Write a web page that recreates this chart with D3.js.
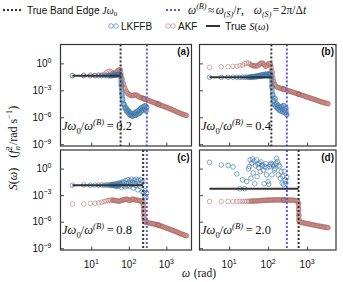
<!DOCTYPE html>
<html>
<head>
<meta charset="utf-8">
<script src="https://cdnjs.cloudflare.com/ajax/libs/d3/7.8.5/d3.min.js"></script>
<style>
  body { margin: 0; background: #fff; }
  svg { display: block; }
</style>
</head>
<body>
<script>
// ---- data ----
// frequency grid of the AKF points, rad
var omegaAKF = [3.14, 6.28, 9.42, 12.6, 15.7, 18.8, 22.0, 25.1, 28.3, 31.4,
  34.4, 37.8, 41.4, 45.4, 49.8, 54.6, 59.8, 65.6, 71.9, 78.9, 86.5, 94.8,
  104, 114, 125, 137, 150, 165, 181, 198, 217, 238,
  244, 249, 254,
  261, 286, 314, 344, 378, 414, 454, 498, 546, 598,
  606, 612, 618,
  656, 719, 789, 865, 948, 1040, 1140, 1250, 1371, 1503, 1648, 1807, 1982, 2173, 2382, 2612, 2864, 3141, 3443];
// frequency grid of the LKFFB points, rad
var omegaLK = [3.14, 6.28, 9.42, 12.6, 15.7, 18.8, 22.0, 25.1, 28.3, 31.4,
  32.9, 34.4, 36.1, 37.8, 39.5, 41.4, 43.4, 45.4, 47.5, 49.8,
  52.1, 54.6, 57.1, 59.8, 62.7, 65.6, 68.7, 71.9, 75.3, 78.9,
  82.6, 86.5, 90.6, 94.8, 99.3, 104, 109, 114, 119, 125,
  131, 137, 144, 150, 157, 165, 173, 181, 189, 198,
  207, 217, 228, 238, 249, 261, 274, 286, 300];

// log10 S(w) of AKF, panels a-d
var akfA = [-1.35, -1.33, -1.3, -1.32, -1.28, -1.3, -1.22, -1.05, -0.9, -0.85,
  -0.95, -1.1, -1.15, -1.0, -0.85, -0.72, -0.75, -1.7, -2.3, -2.8, -3.15, -3.35,
  -3.5, -3.58, -3.6, -3.55, -3.5, -3.55, -3.7, -3.78, -3.83, -3.9,
  -3.91, -3.92, -3.93,
  -3.96, -4.02, -4.08, -4.15, -4.21, -4.28, -4.34, -4.4, -4.47, -4.53,
  -4.54, -4.54, -4.55,
  -4.6, -4.66, -4.73, -4.79, -4.86, -4.92, -4.99, -5.06, -5.13, -5.2, -5.27, -5.35, -5.42, -5.5, -5.57, -5.64, -5.7, -5.75, -5.8];
var akfB = [-0.44, -0.37, -0.37, -0.33, -0.33, -0.26, -0.19, -0.05, 0.03, 0.02,
  -0.1, -0.2, -0.26, -0.28, -0.3, -0.25, -0.1, 0.02, 0.03, -0.15, -0.33, -0.2,
  0.0, -0.1, -0.9, -2.0, -2.4, -2.6, -2.7, -2.75, -2.8, -2.85,
  -2.86, -2.87, -2.88,
  -2.9, -2.95, -3.01, -3.07, -3.13, -3.19, -3.25, -3.3, -3.36, -3.42,
  -3.42, -3.43, -3.43,
  -3.48, -3.54, -3.59, -3.65, -3.71, -3.77, -3.83, -3.89, -3.95, -4.0, -4.06, -4.12, -4.18, -4.24, -4.3, -4.35, -4.4, -4.45, -4.5];
var akfC = [-4.0, -4.0, -3.93, -3.92, -3.88, -3.8, -3.72, -3.65, -3.6, -3.56,
  -3.55, -3.57, -3.6, -3.63, -3.66, -3.7, -3.65, -3.56, -3.55, -3.48, -3.45, -3.52,
  -3.62, -3.55, -3.45, -3.48, -3.55, -3.56, -3.6, -3.63, -3.7, -3.8,
  -4.2, -4.9, -5.6,
  -6.0, -6.07, -6.1, -6.15, -6.18, -6.22, -6.25, -6.28, -6.32, -6.37,
  -6.37, -6.38, -6.38,
  -6.43, -6.49, -6.55, -6.61, -6.67, -6.74, -6.8, -6.87, -6.93, -7.0, -7.06, -7.13, -7.2, -7.27, -7.34, -7.41, -7.48, -7.53, -7.58];
var akfD = [-3.72, -3.72, -3.71, -3.72, -3.7, -3.71, -3.7, -3.69, -3.7, -3.68,
  -3.69, -3.67, -3.68, -3.66, -3.65, -3.66, -3.63, -3.62, -3.6, -3.58, -3.6, -3.56,
  -3.55, -3.58, -3.54, -3.56, -3.53, -3.55, -3.52, -3.56, -3.53, -3.55,
  -3.55, -3.56, -3.54,
  -3.55, -3.56, -3.54, -3.57, -3.55, -3.58, -3.57, -3.6, -3.65, -3.9,
  -4.6, -5.3, -5.9,
  -6.05, -6.1, -6.13, -6.17, -6.2, -6.24, -6.28, -6.31, -6.35, -6.38, -6.42, -6.46, -6.49, -6.52, -6.56, -6.59, -6.62, -6.65, -6.68];

// log10 S(w) of LKFFB, panels a-d
var lkA = [-1.38, -1.37, -1.39, -1.38, -1.37, -1.38, -1.36, -1.37, -1.38, -1.36,
  -1.38, -1.37, -1.35, -1.36, -1.33, -1.3, -1.32, -1.28, -1.25, -1.3, -1.22, -1.25, -1.2, -1.3,
  -2.4, -3.4, -4.0, -4.5, -4.6, -5.0, -4.9, -5.3, -5.1, -5.5, -5.3, -5.7, -5.5, -5.8, -5.6,
  -5.9, -5.6, -5.8, -5.5, -5.8, -5.4, -5.7, -5.3, -5.6, -5.2, -5.5, -5.0, -5.3, -4.9, -5.2,
  -4.8, -5.1, -4.7, -5.3, -4.9];
var lkB = [-1.55, -1.56, -1.55, -1.54, -1.55, -1.56, -1.54, -1.55, -1.53, -1.55,
  -1.54, -1.52, -1.55, -1.5, -1.53, -1.48, -1.52, -1.45, -1.5, -1.42,
  -1.48, -1.4, -1.46, -1.35, -1.45, -1.3, -1.42, -1.28, -1.4, -1.25,
  -1.38, -1.2, -1.35, -1.22, -1.4, -1.15, -1.3, -1.2, -1.45,
  -2.6, -3.5, -4.2, -4.6, -3.9, -4.8, -4.5, -5.0, -4.7, -5.2,
  -4.9, -5.3, -4.8, -5.1, -5.4, -4.7, -5.2, -5.5, -5.0, -5.7];
var lkC = [-1.87, -1.85, -1.88, -1.86, -1.87, -1.85, -1.88, -1.86, -1.84, -1.9,
  -1.82, -1.92, -1.8, -1.9, -1.78, -1.95, -1.75, -1.88, -2.0, -1.7,
  -1.85, -1.95, -1.6, -1.75, -2.1, -1.65, -1.5, -1.9, -1.55, -2.05,
  -1.35, -1.7, -1.95, -1.25, -1.6, -2.0, -1.4, -1.8, -1.2, -1.55,
  -2.2, -1.3, -1.7, -1.9, -1.2, -1.45, -2.4, -1.3, -1.7, -2.0,
  -1.25, -1.6, -2.6, -1.5, -2.7, -3.1, -2.5, -3.3, -2.8];
var lkD = [0.71, 0.41, 0.34, 0.19, -0.6, -2.28, -1.27, -2.28, -1.46, -0.04,
  0.22, 0.97, -1.09, 0.6, 1.09, -0.5, 0.85, -1.72, 0.3, 0.97,
  -0.9, 0.5, 0.1, 0.6, -0.34, 0.75, 0.3, 0.41, -0.2, -1.72,
  0.22, 0.55, -0.71, 0.1, -1.46, -1.76, 0.22, 0.45, 0.6, -0.71,
  0.49, 0.3, -0.15, 0.0, 0.6, 1.16, 0.79, -0.71, 0.4, 0.22,
  -1.09, -0.34, -1.65, -0.9, -1.83, -0.3, -1.27, -1.65, -1.0];

var ratios = [0.2, 0.4, 0.8, 2.0];     // J w0 / w(B)
var omegaB = 302;                      // blue line, rad
var trueS = [-1.37, -1.55, -1.87, -2.27]; // log10 of flat true S(w)
var panelNames = ["(a)", "(b)", "(c)", "(d)"];
var ratioLabels = ["0.2", "0.4", "0.8", "2.0"];
var yTicks = [1e0, 1e-3, 1e-6, 1e-9];
var yTickExp = ["0", "\u22123", "\u22126", "\u22129"];
var xTicks = [1e1, 1e2, 1e3];
var xTickExp = ["1", "2", "3"];

// ---- layout ----
var W = 343, H = 282;
var SANS = "'Liberation Sans', Arial, sans-serif";
var SERIF = "'Liberation Serif', 'DejaVu Serif', serif";
var cLK = "#3a76ab", cAKF = "#ad625c", cBlue = "#5a5ae0", cDark = "#333";

var cols = [[60.5, 191.5], [199.5, 336]];
var rows = [[44.5, 146], [150, 250]];
var xDom = [[Math.pow(10, 0.18), Math.pow(10, 3.67)], [Math.pow(10, 0.24), Math.pow(10, 3.74)]];
var yDom = [Math.pow(10, -9.2), Math.pow(10, 2.1)];
// where the dense circles merge into a band (omega range)
var bandMin = 35;
var lkBandMax = [1e9, 1e9, 60, 0];

var svg = d3.select("body").append("svg").attr("width", W).attr("height", H);

// helper: text made of tspans (sup / sub / italic / font)
function mathText(g, x, y, parts, size, anchor) {
  var t = g.append("text").attr("x", x).attr("y", y)
    .attr("font-size", size).attr("text-anchor", anchor || "start").attr("fill", "#111");
  var cur = 0;
  parts.forEach(function(p) {
    var off = p.s === "sup" ? -0.42 * size : (p.s === "sub" ? 0.28 * size : 0);
    var ts = t.append("tspan").text(p.t).attr("dy", off - cur);
    cur = off;
    ts.attr("font-family", p.f === "sans" ? SANS : SERIF)
      .attr("font-style", p.i ? "italic" : "normal")
      .attr("font-size", p.s ? size * 0.7 : size);
    if (p.dx) ts.attr("dx", p.dx);
  });
  return t;
}

var akf = [akfA, akfB, akfC, akfD];
var lk = [lkA, lkB, lkC, lkD];

panelNames.forEach(function(name, i) {
  var c = i % 2, r = Math.floor(i / 2);
  var x = d3.scaleLog().domain(xDom[c]).range(cols[c]);
  var y = d3.scaleLog().domain(yDom).range([rows[r][1], rows[r][0]]);
  var g = svg.append("g");
  var line = d3.line()
    .x(function(d) { return x(d[0]); })
    .y(function(d) { return y(Math.pow(10, d[1])); });

  svg.append("clipPath").attr("id", "clip" + i).append("rect")
    .attr("x", cols[c][0]).attr("y", rows[r][0])
    .attr("width", cols[c][1] - cols[c][0]).attr("height", rows[r][1] - rows[r][0]);
  var plot = g.append("g").attr("clip-path", "url(#clip" + i + ")");

  var akfPts = d3.zip(omegaAKF, akf[i]);
  var lkPts = d3.zip(omegaLK, lk[i]);

  // AKF: dense part drawn as a band of overlapping markers, then the rings
  plot.append("path")
    .attr("d", line(akfPts.filter(function(d) { return d[0] >= bandMin; })))
    .attr("fill", "none").attr("stroke", cAKF).attr("stroke-width", 5.2)
    .attr("stroke-linejoin", "round").attr("stroke-linecap", "round").attr("stroke-opacity", 0.55);
  plot.append("g").selectAll("circle")
    .data(akfPts)
    .join("circle")
    .attr("cx", function(d) { return x(d[0]); })
    .attr("cy", function(d) { return y(Math.pow(10, d[1])); })
    .attr("r", 2.3).attr("fill", "none")
    .attr("stroke", cAKF).attr("stroke-width", 0.9).attr("stroke-opacity", 0.55);

  var lkBand = lkPts.filter(function(d) { return d[0] >= bandMin && d[0] <= lkBandMax[i]; });
  if (lkBand.length > 1) {
    plot.append("path").attr("d", line(lkBand))
      .attr("fill", "none").attr("stroke", cLK).attr("stroke-width", 5)
      .attr("stroke-linejoin", "round").attr("stroke-linecap", "round").attr("stroke-opacity", 0.5);
  }
  plot.append("g").selectAll("circle")
    .data(lkPts)
    .join("circle")
    .attr("cx", function(d) { return x(d[0]); })
    .attr("cy", function(d) { return y(Math.pow(10, d[1])); })
    .attr("r", 2.3).attr("fill", "none")
    .attr("stroke", cLK).attr("stroke-width", 0.9).attr("stroke-opacity", 0.7);

  var edge = ratios[i] * omegaB;
  plot.append("line")
    .attr("x1", x(omegaAKF[0])).attr("x2", x(edge))
    .attr("y1", y(Math.pow(10, trueS[i]))).attr("y2", y(Math.pow(10, trueS[i])))
    .attr("stroke", cDark).attr("stroke-width", 2);

  plot.append("line")
    .attr("x1", x(edge)).attr("x2", x(edge))
    .attr("y1", rows[r][0]).attr("y2", rows[r][1])
    .attr("stroke", cDark).attr("stroke-width", 2).attr("stroke-dasharray", "2,2");
  plot.append("line")
    .attr("x1", x(omegaB)).attr("x2", x(omegaB))
    .attr("y1", rows[r][0]).attr("y2", rows[r][1])
    .attr("stroke", cBlue).attr("stroke-width", 2).attr("stroke-dasharray", "2,2");

  // inward ticks
  var ya = g.append("g").attr("transform", "translate(" + cols[c][0] + ",0)")
    .call(d3.axisLeft(y).tickValues(yTicks).tickSizeInner(-3.5).tickSizeOuter(0).tickFormat(""));
  var xa = g.append("g").attr("transform", "translate(0," + rows[r][1] + ")")
    .call(d3.axisBottom(x).tickValues(xTicks).tickSizeInner(-3.5).tickSizeOuter(0).tickFormat(""));
  [ya, xa].forEach(function(a) {
    a.select(".domain").remove();
    a.selectAll(".tick line").attr("stroke", cDark).attr("stroke-width", 0.9);
  });

  g.append("rect")
    .attr("x", cols[c][0]).attr("y", rows[r][0])
    .attr("width", cols[c][1] - cols[c][0]).attr("height", rows[r][1] - rows[r][0])
    .attr("fill", "none").attr("stroke", cDark).attr("stroke-width", 1.2);

  if (c === 0) {
    yTicks.forEach(function(v, k) {
      mathText(g, cols[0][0] - 9, y(v) + 3.5,
        [{t: "10", f: "sans"}, {t: yTickExp[k], f: "sans", s: "sup"}], 10, "end");
    });
  }
  if (r === 1) {
    xTicks.forEach(function(v, k) {
      mathText(g, x(v), 268,
        [{t: "10", f: "sans"}, {t: xTickExp[k], f: "sans", s: "sup"}], 10, "middle");
    });
  }

  g.append("text").attr("x", cols[c][1] - 2).attr("y", rows[r][0] + 10.5)
    .attr("text-anchor", "end").attr("font-family", SANS).attr("font-weight", "bold")
    .attr("font-size", 10).attr("fill", "#111").text(name);

  mathText(g, cols[c][0] + 1.5, rows[r][1] - 16, [
    {t: "J\u03c9", i: 1}, {t: "0", s: "sub"}, {t: "/"}, {t: "\u03c9", i: 1},
    {t: "(B)", i: 1, s: "sup"}, {t: "=", dx: 2.5}, {t: ratioLabels[i], dx: 2.5}
  ], 12.5);
});

// axis labels
mathText(svg, 199, 277, [{t: "\u03c9", i: 1}, {t: "(rad)", dx: 3.5}], 11.5, "middle");
var yl = svg.append("g").attr("transform", "translate(17,148) rotate(-90)");
mathText(yl, 0, 0, [
  {t: "S", i: 1}, {t: "("}, {t: "\u03c9", i: 1}, {t: ")"},
  {t: "(", dx: 10}, {t: "f", i: 1}, {t: "2", s: "sup"}, {t: "n", i: 1, s: "sub", dx: -4},
  {t: "/rad s", dx: 1}, {t: "\u22121", s: "sup"}, {t: ")"}
], 12, "middle");

// legend
var lg = svg.append("g");
lg.append("line").attr("x1", 3).attr("x2", 22).attr("y1", 10).attr("y2", 10)
  .attr("stroke", cDark).attr("stroke-width", 2).attr("stroke-dasharray", "2,2");
mathText(lg, 27, 13.5, [{t: "True Band Edge ", f: "sans"}, {t: "J\u03c9", i: 1}, {t: "0", s: "sub"}], 10);
lg.append("line").attr("x1", 166).attr("x2", 182).attr("y1", 10).attr("y2", 10)
  .attr("stroke", cBlue).attr("stroke-width", 2).attr("stroke-dasharray", "2,2");
mathText(lg, 188, 13.5, [
  {t: "\u03c9", i: 1}, {t: "(B)", i: 1, s: "sup"}, {t: "\u2248", dx: 1.5}, {t: "\u03c9", i: 1, dx: 1.5}, {t: "(S)", i: 1, s: "sub"},
  {t: "/"}, {t: "r", i: 1}, {t: ","},
  {t: "\u03c9", i: 1, dx: 10}, {t: "(S)", i: 1, s: "sub"}, {t: "=", dx: 1.5}, {t: "2\u03c0/\u0394", dx: 1.5}, {t: "t", i: 1}
], 11.5);

[111, 116].forEach(function(cx) {
  lg.append("circle").attr("cx", cx).attr("cy", 26).attr("r", 2.3).attr("fill", "none")
    .attr("stroke", cLK).attr("stroke-width", 0.9).attr("stroke-opacity", 0.7);
});
lg.append("text").attr("x", 121).attr("y", 29.5).attr("font-family", SANS).attr("font-size", 10)
  .attr("fill", "#111").text("LKFFB");
[168, 173].forEach(function(cx) {
  lg.append("circle").attr("cx", cx).attr("cy", 26).attr("r", 2.3).attr("fill", "none")
    .attr("stroke", cAKF).attr("stroke-width", 0.9).attr("stroke-opacity", 0.6);
});
lg.append("text").attr("x", 178).attr("y", 29.5).attr("font-family", SANS).attr("font-size", 10)
  .attr("fill", "#111").text("AKF");
lg.append("line").attr("x1", 206).attr("x2", 220).attr("y1", 26).attr("y2", 26)
  .attr("stroke", cDark).attr("stroke-width", 2);
mathText(lg, 225, 29.5, [{t: "True ", f: "sans"}, {t: "S", i: 1}, {t: "("}, {t: "\u03c9", i: 1}, {t: ")"}], 10.5);
</script>
</body>
</html>
